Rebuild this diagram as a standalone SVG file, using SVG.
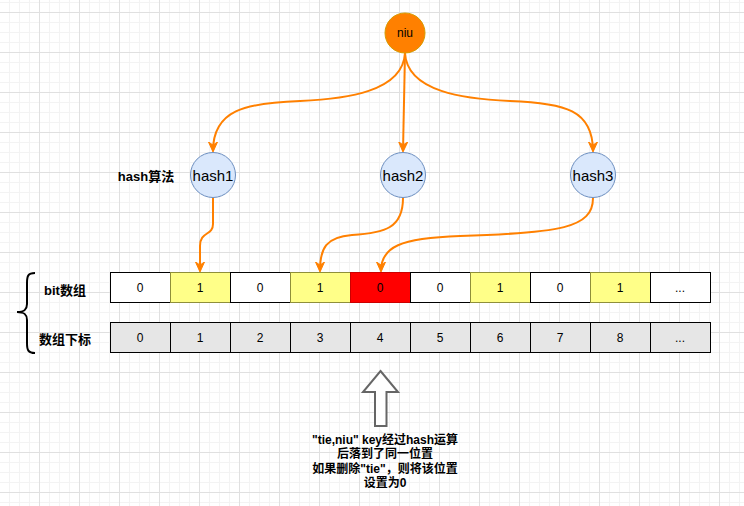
<svg xmlns="http://www.w3.org/2000/svg" width="744" height="506" viewBox="0 0 744 506">
<style>
.t{font-family:"Liberation Sans","Noto Sans CJK SC",sans-serif;fill:#000;text-anchor:middle}
.b{font-weight:bold}
.cell{fill:#fff;stroke:#000;stroke-width:1}
.y{fill:#ffff88;stroke:#8f8f3a}
.r{fill:#ff0000;stroke:#cc0000}
.g{fill:#e6e6e6;stroke:#000}
.hash{fill:#dae8fc;stroke:#6c8ebf;stroke-width:1}
.e{fill:none;stroke:#ff8000;stroke-width:2;marker-end:url(#ah)}
</style>
<defs>
<pattern id="grid" width="40" height="40" patternUnits="userSpaceOnUse">
<path d="M9.5,0V40M19.5,0V40M29.5,0V40M0,2.5H40M0,22.5H40M0,32.5H40" stroke="#f3f3f3" stroke-width="1" fill="none"/>
<path d="M39.5,0V40M0,12.5H40" stroke="#e0e0e0" stroke-width="1" fill="none"/>
</pattern>
<marker id="ah" markerUnits="userSpaceOnUse" viewBox="0 0 10 10" markerWidth="10" markerHeight="10" refX="9" refY="5" orient="auto">
<path d="M0,0.5L10,5L0,9.5L3,5z" fill="#ff8000" stroke="#ff8000" stroke-width="1"/>
</marker>
</defs>
<rect width="744" height="506" fill="#fff"/>
<rect width="744" height="506" fill="url(#grid)"/>

<g id="connectors">
<path class="e" d="M405,53C403,92 345,99 300,101C245,103 213,110 213,151"/>
<path class="e" d="M405,53L403,151"/>
<path class="e" d="M405,53C407,92 465,99 510,101C565,103 593,110 593,151"/>
<path class="e" d="M213,198L213,224C213,236 200,231 200,246L200,271"/>
<path class="e" d="M403,198C403,228 385,233 352,235C326,237 320,248 320,271"/>
<path class="e" d="M593,198C593,228 560,233 460,236C400,238 381,247 381,271"/>
</g>

<g id="niu">
<circle cx="405" cy="33" r="20" fill="#ff8000" stroke="#d79b00" stroke-width="1"/>
<text class="t" x="405" y="37" font-size="12">niu</text>
</g>

<g id="hash-label"><text class="t b" x="146" y="181" font-size="13">hash算法</text></g>

<g id="hash1"><circle class="hash" cx="213" cy="175" r="22.5"/><text class="t" x="213" y="180.5" font-size="15">hash1</text></g>
<g id="hash2"><circle class="hash" cx="403" cy="175" r="22.5"/><text class="t" x="403" y="180.5" font-size="15">hash2</text></g>
<g id="hash3"><circle class="hash" cx="593" cy="175" r="22.5"/><text class="t" x="593" y="180.5" font-size="15">hash3</text></g>

<g id="bit-label"><text class="t b" x="65" y="295" font-size="13">bit数组</text></g>
<g id="index-label"><text class="t b" x="65" y="344" font-size="13">数组下标</text></g>

<g id="brace"><path d="M35,273C28,273 27,276 27,283L27,304C27,310 24,312 17,312C24,312 27,314 27,320L27,343C27,350 28,353 35,353" fill="none" stroke="#000" stroke-width="2"/></g>

<g id="bit-array">
<rect class="cell" x="110.5" y="272.5" width="60" height="30"/>
<rect class="cell y" x="170.5" y="272.5" width="60" height="30"/>
<rect class="cell" x="230.5" y="272.5" width="60" height="30"/>
<rect class="cell y" x="290.5" y="272.5" width="60" height="30"/>
<rect class="cell r" x="350.5" y="272.5" width="60" height="30"/>
<rect class="cell" x="410.5" y="272.5" width="60" height="30"/>
<rect class="cell y" x="470.5" y="272.5" width="60" height="30"/>
<rect class="cell" x="530.5" y="272.5" width="60" height="30"/>
<rect class="cell y" x="590.5" y="272.5" width="60" height="30"/>
<rect class="cell" x="650.5" y="272.5" width="60" height="30"/>
<g class="t" font-size="12">
<text x="140" y="292">0</text><text x="200" y="292">1</text><text x="260" y="292">0</text><text x="320" y="292">1</text><text x="380" y="292">0</text><text x="440" y="292">0</text><text x="500" y="292">1</text><text x="560" y="292">0</text><text x="620" y="292">1</text><text x="680" y="292">...</text>
</g>
</g>

<g id="index-array">
<rect class="g" x="110.5" y="322.5" width="60" height="30"/>
<rect class="g" x="170.5" y="322.5" width="60" height="30"/>
<rect class="g" x="230.5" y="322.5" width="60" height="30"/>
<rect class="g" x="290.5" y="322.5" width="60" height="30"/>
<rect class="g" x="350.5" y="322.5" width="60" height="30"/>
<rect class="g" x="410.5" y="322.5" width="60" height="30"/>
<rect class="g" x="470.5" y="322.5" width="60" height="30"/>
<rect class="g" x="530.5" y="322.5" width="60" height="30"/>
<rect class="g" x="590.5" y="322.5" width="60" height="30"/>
<rect class="g" x="650.5" y="322.5" width="60" height="30"/>
<g class="t" font-size="12">
<text x="140" y="342">0</text><text x="200" y="342">1</text><text x="260" y="342">2</text><text x="320" y="342">3</text><text x="380" y="342">4</text><text x="440" y="342">5</text><text x="500" y="342">6</text><text x="560" y="342">7</text><text x="620" y="342">8</text><text x="680" y="342">...</text>
</g>
</g>

<g id="big-arrow"><path d="M380.5,371L398,392L386.5,392L386.5,426L375,426L375,392L363,392Z" fill="#fff" stroke="#666" stroke-width="2"/></g>

<g id="note" class="t b" font-size="12">
<text x="385" y="444">"tie,niu" key经过hash运算</text>
<text x="385" y="458">后落到了同一位置</text>
<text x="385" y="473">如果删除"tie"，则将该位置</text>
<text x="385" y="487">设置为0</text>
</g>
</svg>
